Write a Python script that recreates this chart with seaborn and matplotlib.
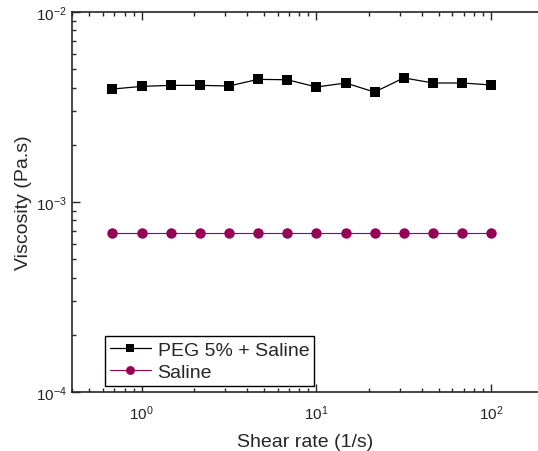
import matplotlib
matplotlib.use('Agg')
import matplotlib.pyplot as plt
import seaborn as sns
import pandas as pd
from matplotlib.ticker import LogLocator, NullFormatter

# Shear rate points (1/s)
shear_rate = [0.681, 1.0, 1.47, 2.15, 3.16, 4.64, 6.81, 10.0, 14.7, 21.5, 31.6, 46.4, 68.1, 100.0]

# Viscosity (Pa.s)
peg_saline = [0.00393, 0.00406, 0.00411, 0.00411, 0.00408, 0.00442, 0.00440,
              0.00403, 0.00423, 0.00379, 0.00450, 0.00423, 0.00423, 0.00413]
saline = [0.000689] * len(shear_rate)

labels = ['PEG 5% + Saline', 'Saline']
colors = ['black', '#990055']

sns.set_style('ticks', {'xtick.direction': 'in', 'ytick.direction': 'in'})
plt.rcParams['font.family'] = ['Liberation Sans', 'DejaVu Sans']
plt.rcParams['mathtext.fontset'] = 'custom'
plt.rcParams['mathtext.rm'] = 'Liberation Sans'
plt.rcParams['mathtext.it'] = 'Liberation Sans'
plt.rcParams['xtick.direction'] = 'in'
plt.rcParams['ytick.direction'] = 'in'

df = pd.DataFrame({
    'Shear': shear_rate * 2,
    'Viscosity': peg_saline + saline,
    'Sample': [labels[0]] * len(shear_rate) + [labels[1]] * len(shear_rate),
})

fig = plt.figure(figsize=(5.38, 4.52), dpi=100)
ax = fig.add_axes([72 / 538, 59 / 452, 466 / 538, 380 / 452])

sns.lineplot(data=df[df['Sample'] == labels[0]], x='Shear', y='Viscosity', ax=ax,
             color=colors[0], marker='s', markersize=6.5, markeredgewidth=0,
             linewidth=0.9, label=labels[0])
sns.lineplot(data=df[df['Sample'] == labels[1]], x='Shear', y='Viscosity', ax=ax,
             color=colors[1], marker='o', markersize=7.5, markeredgewidth=0,
             linewidth=0.8, label=labels[1])

ax.set_xscale('log')
ax.set_yscale('log')
ax.set_xlim(0.4, 185)
ax.set_ylim(1e-4, 1e-2)

ax.spines['right'].set_visible(False)
for s in ['left', 'bottom', 'top']:
    ax.spines[s].set_linewidth(1.2)

ax.xaxis.set_minor_locator(LogLocator(base=10, subs=range(2, 10), numticks=20))
ax.yaxis.set_minor_locator(LogLocator(base=10, subs=range(2, 10), numticks=20))
ax.xaxis.set_minor_formatter(NullFormatter())
ax.yaxis.set_minor_formatter(NullFormatter())
ax.tick_params(which='both', direction='in', top=True, right=False, labelsize=11,
               width=1.0, labelcolor='#222222')
ax.tick_params(which='major', length=6)
ax.tick_params(which='minor', length=3)
ax.tick_params(axis='x', which='major', pad=8)

ax.set_xlabel('Shear rate (1/s)', fontsize=14, labelpad=8)
ax.set_ylabel('Viscosity (Pa.s)', fontsize=14, labelpad=3)

leg = ax.legend(loc='lower left', bbox_to_anchor=(0.071, 0.016), borderaxespad=0,
                fancybox=False, edgecolor='black', framealpha=1, fontsize=14,
                handlelength=2.1, borderpad=0.25, labelspacing=0.25, handletextpad=0.35,
                markerscale=0.85)
leg.get_frame().set_linewidth(1.0)

fig.savefig('out.png', dpi=100)
